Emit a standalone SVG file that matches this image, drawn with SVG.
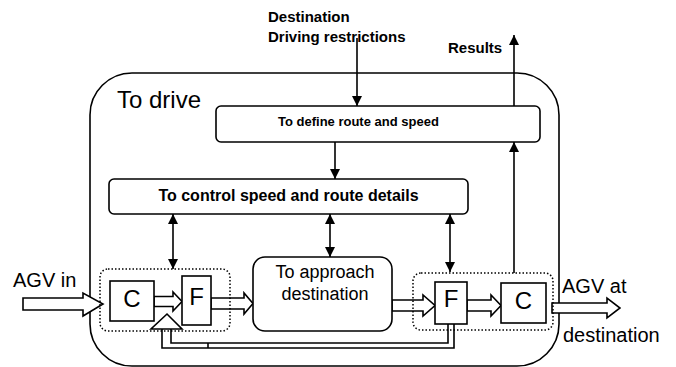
<svg xmlns="http://www.w3.org/2000/svg" width="676" height="367" viewBox="0 0 676 367">
<defs>
<marker id="ah" viewBox="0 0 10 10" refX="10" refY="5" markerWidth="10" markerHeight="11" markerUnits="userSpaceOnUse" orient="auto-start-reverse">
<path d="M0,0 L10,5 L0,10 Z" fill="#000"/>
</marker>
<style>
.box{fill:#fff;stroke:#000;stroke-width:1.6}
.dot{fill:none;stroke:#000;stroke-width:1.5;stroke-dasharray:1.5 2}
.ln{fill:none;stroke:#000;stroke-width:1.6}
.ha{fill:#fff;stroke:#000;stroke-width:1.6;stroke-linejoin:miter}
.t{font-family:"Liberation Sans",Arial,sans-serif;fill:#000}
.b{font-family:"Liberation Sans",Arial,sans-serif;font-weight:bold;fill:#000}
</style>
</defs>
<rect width="676" height="367" fill="#fff"/>
<g id="outer">
<rect x="90" y="73" width="469" height="293" rx="42" ry="42" class="box" fill="none" style="fill:none"/>
<text x="117" y="108" class="t" font-size="24">To drive</text>
</g>
<g id="connectors">
<line x1="357" y1="38" x2="357" y2="106" class="ln" marker-end="url(#ah)"/>
<line x1="514" y1="106" x2="514" y2="35" class="ln" marker-end="url(#ah)"/>
<line x1="514" y1="273" x2="514" y2="142" class="ln" marker-end="url(#ah)"/>
<line x1="335" y1="142" x2="335" y2="179" class="ln" marker-end="url(#ah)"/>
<line x1="173" y1="214" x2="173" y2="269" class="ln" marker-start="url(#ah)" marker-end="url(#ah)"/>
<line x1="330" y1="214" x2="330" y2="257" class="ln" marker-start="url(#ah)" marker-end="url(#ah)"/>
<line x1="450" y1="214" x2="450" y2="272" class="ln" marker-start="url(#ah)" marker-end="url(#ah)"/>
<polygon class="ha" points="23,298 83,298 83,293 103,304 83,316 83,310 23,310"/>
<polygon class="ha" points="154,296.5 173,296.5 173,292 182,301.5 173,311 173,306.5 154,306.5"/>
<polygon class="ha" points="211,298 244,298 244,293 253,303.5 244,314 244,309 211,309"/>
<polygon class="ha" points="392,300 423,300 423,295 435,305.5 423,316 423,311 392,311"/>
<polygon class="ha" points="467,300 491,300 491,295 501,305.5 491,316 491,311 467,311"/>
<polygon class="ha" points="552,303 607,303 607,298 620,308 607,318 607,313 552,313"/>
<path class="ln" d="M162,329 L162,348 L454,348 L454,324"/>
<path class="ln" d="M171,329 L171,343 L448,343 L448,324"/>
<line x1="208" y1="343" x2="208" y2="348" class="ln"/>
<polygon class="ha" points="162,329 151,329 167,314 182,329 171,329"/>
</g>
<g id="define">
<rect x="216" y="106" width="324" height="36" rx="5" class="box"/>
<text x="278" y="126" class="b" font-size="13">To define route and speed</text>
</g>
<g id="control">
<rect x="109" y="179" width="359" height="35" rx="5" class="box"/>
<text x="288.5" y="201" class="b" font-size="16" text-anchor="middle">To control speed and route details</text>
</g>
<g id="group-left">
<rect x="100" y="269" width="130" height="62" rx="8" class="dot"/>
</g>
<g id="group-right">
<rect x="413" y="273" width="140" height="57" rx="8" class="dot"/>
</g>
<g id="c-left">
<rect x="110" y="281" width="44" height="40" class="box"/>
<text x="132" y="307" class="t" font-size="24" text-anchor="middle">C</text>
</g>
<g id="f-left">
<rect x="182" y="276" width="29" height="49" class="box"/>
<text x="196.5" y="305" class="t" font-size="24" text-anchor="middle">F</text>
</g>
<g id="approach">
<rect x="253" y="257" width="139" height="74" rx="12" class="box"/>
<text x="325" y="278" class="t" font-size="18" text-anchor="middle">To approach</text>
<text x="325" y="300" class="t" font-size="18" text-anchor="middle">destination</text>
</g>
<g id="f-right">
<rect x="435" y="282" width="32" height="42" class="box"/>
<text x="451" y="307" class="t" font-size="24" text-anchor="middle">F</text>
</g>
<g id="c-right">
<rect x="501" y="283" width="45" height="40" class="box"/>
<text x="523.5" y="309" class="t" font-size="24" text-anchor="middle">C</text>
</g>
<g id="labels">
<text x="268" y="22" class="b" font-size="15">Destination</text>
<text x="268" y="42" class="b" font-size="15">Driving restrictions</text>
<text x="448" y="53" class="b" font-size="15">Results</text>
<text x="13" y="287" class="t" font-size="20">AGV in</text>
<text x="562" y="293" class="t" font-size="20">AGV at</text>
<text x="563" y="342" class="t" font-size="20">destination</text>
</g>
</svg>
